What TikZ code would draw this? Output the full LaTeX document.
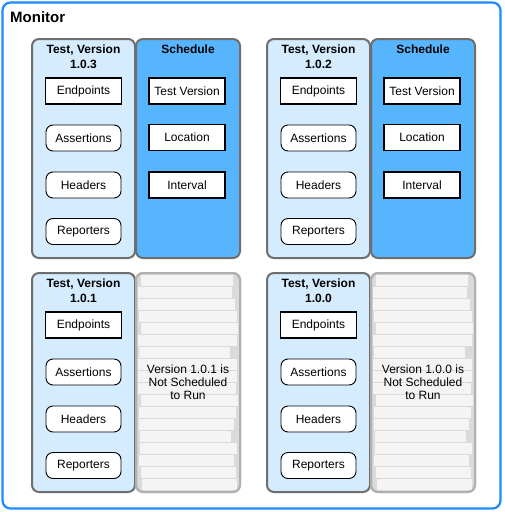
\documentclass[tikz,border=0pt]{standalone}
\usepackage{fontspec}
\setmainfont{Liberation Sans}
\definecolor{outerblue}{HTML}{1A8CFF}
\definecolor{testfill}{HTML}{D5EBFE}
\definecolor{schedfill}{HTML}{57B5FD}
\definecolor{panelline}{HTML}{6E6E6E}
\definecolor{grayfill}{HTML}{DADADA}
\definecolor{grayline}{HTML}{B0B0B0}
\definecolor{stripfill}{HTML}{F4F4F4}
\tikzset{
  outerframe/.style={draw=outerblue, line width=2.2pt, rounded corners=8pt, fill=white, minimum width=498pt, minimum height=506pt, inner sep=0pt},
  testpanel/.style={draw=panelline, line width=2pt, rounded corners=7pt, fill=testfill, minimum width=103pt, minimum height=219pt, inner sep=0pt},
  schedpanel/.style={draw=panelline, line width=2pt, rounded corners=7pt, fill=schedfill, minimum width=104pt, minimum height=219pt, inner sep=0pt},
  graypanel/.style={draw=grayline, line width=2pt, rounded corners=7pt, fill=grayfill, minimum width=104pt, minimum height=219pt, inner sep=0pt},
  sqbox/.style={draw=black, line width=1.8pt, fill=white, minimum width=76pt, minimum height=26pt, inner sep=0pt, font=\fontsize{12}{14}\selectfont},
  rndbox/.style={draw=black, line width=0.9pt, rounded corners=7pt, fill=white, minimum width=75pt, minimum height=26pt, inner sep=0pt, font=\fontsize{12}{14}\selectfont},
  paneltitle/.style={font=\bfseries\fontsize{12}{15}\selectfont, align=center, inner sep=0pt},
  graytext/.style={font=\fontsize{12}{13}\selectfont, align=center, inner sep=0pt},
}
\newcommand\TestPanel[4]{%
  \begin{scope}[shift={(#2,#3)}]
    \node[testpanel] (#1panel) at (83.5,148.5) {};
    \node[paneltitle, anchor=north] (#1title) at (83.5,44.5) {Test, Version\\#4};
    \node[sqbox] (#1endpoints) at (83.5,91) {Endpoints};
    \node[rndbox] (#1assertions) at (83.5,138) {Assertions};
    \node[rndbox] (#1headers) at (83.5,185) {Headers};
    \node[rndbox] (#1reporters) at (83.5,231.5) {Reporters};
  \end{scope}}
\newcommand\SchedPanel[3]{%
  \begin{scope}[shift={(#2,#3)}]
    \node[schedpanel] (#1sched) at (188,148.5) {};
    \node[paneltitle, anchor=north] (#1schedtitle) at (188,44.5) {Schedule};
    \node[sqbox] (#1testversion) at (187,91) {Test Version};
    \node[sqbox] (#1location) at (187,137.5) {Location};
    \node[sqbox] (#1interval) at (187,185) {Interval};
  \end{scope}}
\newcommand\GrayPanel[4]{%
  \begin{scope}[shift={(#2,#3)}]
    \node[graypanel] (#1gray) at (188,148.5) {};
    \begin{scope}
      \clip[rounded corners=6pt] (137,40) rectangle (239,257);
      \foreach \i/\a/\b in {0/5/7,1/2/8,2/2/5,3/3/3,4/5/2,5/2/3,6/3/10,7/2/3,8/2/3,9/2/4,10/5/2,11/3/4,12/3/6,13/4/9,14/4/3,15/3/6,16/5/4,17/6/3}{
        \fill[stripfill] (136+\a, 41+\i*12) rectangle (240-\b, 51.5+\i*12);
      }
    \end{scope}
    \draw[grayline, line width=2pt, rounded corners=7pt] (136,39) rectangle (240,258);
    \node[graytext] (#1graytext) at (188,148) {Version #4 is\\Not Scheduled\\to Run};
  \end{scope}}
\begin{document}
\begin{tikzpicture}[x=1pt,y=-1pt]
  \useasboundingbox (0,0) rectangle (504,512);
  \node[outerframe] (monitor) at (251.5,255.5) {};
  \node[font=\bfseries\fontsize{15}{18}\selectfont, anchor=west, inner sep=0pt] (monitortitle) at (10,17) {Monitor};
  \TestPanel{a}{0}{0}{1.0.3}
  \SchedPanel{a}{0}{0}
  \TestPanel{b}{235}{0}{1.0.2}
  \SchedPanel{b}{235}{0}
  \TestPanel{c}{0}{234}{1.0.1}
  \GrayPanel{c}{0}{234}{1.0.1}
  \TestPanel{d}{235}{234}{1.0.0}
  \GrayPanel{d}{235}{234}{1.0.0}
\end{tikzpicture}
\end{document}
